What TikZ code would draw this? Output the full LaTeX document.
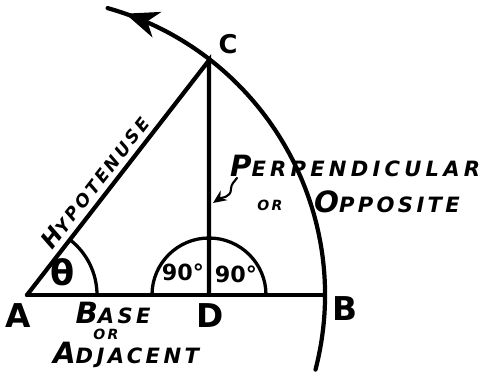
\documentclass[tikz,border=0pt]{standalone}
\usepackage{fontspec}
\setmainfont{DejaVu Sans}
\newfontfamily\handfont[LetterSpace=16]{DejaVu Sans}
\usetikzlibrary{arrows.meta,decorations.markings}
\newcommand\hcap[2]{{\fontsize{25}{25}\selectfont #1}#2}

\begin{document}
\begin{tikzpicture}[x=0.03cm,y=0.03cm,line width=3.6pt,line cap=round,
  hand/.style={inner sep=0pt,font=\handfont\bfseries\itshape\fontsize{18}{18}\selectfont},
  small/.style={inner sep=0pt,font=\handfont\bfseries\itshape\fontsize{12}{12}\selectfont},
  vertex/.style={inner sep=0pt,font=\bfseries\fontsize{28}{28}\selectfont},
  angmark/.style={line width=2.8pt},
  sweep/.style={decoration={markings,mark=at position 0.96 with {\arrow{Stealth[length=10mm,width=8mm,inset=3mm]}}},postaction={decorate}}]
\useasboundingbox (0,0) rectangle (486,376);
\coordinate (A) at (27,81);
\coordinate (B) at (324,81);
\coordinate (C) at (209,315.7);
\coordinate (D) at (209,81);
% triangle
\draw (A) -- (B);
\draw (A) -- (C) -- (D);
% angle marks
\draw[angmark] ([shift={(0:70)}]A) arc[start angle=0,end angle=52.2,radius=70];
\draw[angmark] ([shift={(0:57)}]D) arc[start angle=0,end angle=180,radius=57];
% swept arc
\draw[sweep] ([shift={(-14.5:298)}]A) arc[start angle=-14.5,end angle=74.3,radius=298];
% letters
\node[vertex] (a) at (18,60) {A};
\node[vertex] (d) at (210,60) {D};
\node[vertex] (b) at (345,67) {B};
\node[vertex,font=\bfseries\fontsize{22}{22}\selectfont] (c) at (228,332) {C};
\node[vertex,font=\bfseries\fontsize{30}{30}\selectfont] (theta) at (63,104) {θ};
\node[vertex,font=\bfseries\fontsize{19}{19}\selectfont] (ang1) at (183,104) {90°};
\node[vertex,font=\bfseries\fontsize{19}{19}\selectfont] (ang2) at (236,102) {90°};
% side names
\node[hand] (base) at (113,63) {\hcap{B}{ASE}};
\node[small] (or1) at (106,42) {OR};
\node[hand] (adj) at (126,21) {\hcap{A}{DJACENT}};
\node[hand,anchor=west,font=\handfont\bfseries\itshape\fontsize{18}{18}\selectfont\addfontfeature{LetterSpace=20}] (perp) at (228,210) {\hcap{P}{ERPENDICULAR}};
\node[small] (or2) at (270,171) {OR};
\node[hand] (opp) at (387,174) {\hcap{O}{PPOSITE}};
\path (A) -- (C) node[hand,font=\handfont\bfseries\itshape\fontsize{15}{15}\selectfont,pos=.44,sloped,above=4pt] (hyp) {{\fontsize{20}{20}\selectfont H}YPOTENUSE};
\coordinate (foot) at (213,173);
\draw[line width=1.8pt,-{Stealth[length=4mm,width=3.5mm]}] ([shift={(9,1)}]perp.south west) to[out=-125,in=90] (231,187) to[out=-90,in=35] (foot);
\end{tikzpicture}
\end{document}
